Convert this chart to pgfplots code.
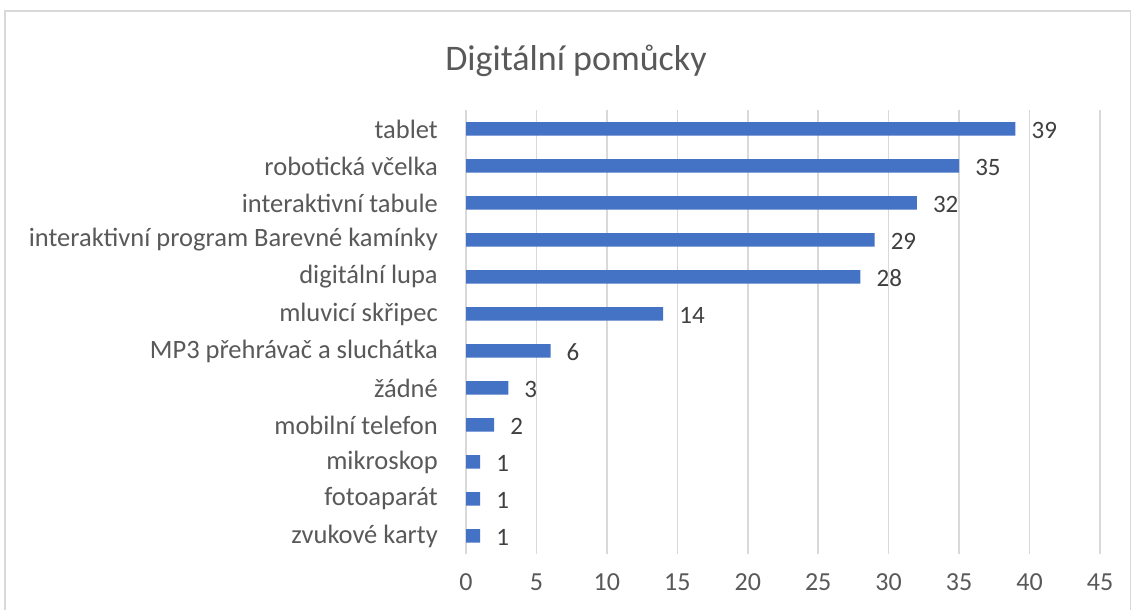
\documentclass[border=0pt]{standalone}
\usepackage{fontspec}
\setmainfont{Carlito}
\usepackage{pgfplots}
\pgfplotsset{compat=1.18}
\definecolor{barblue}{HTML}{4472C4}
\definecolor{txtgray}{HTML}{595959}
\definecolor{lblgray}{HTML}{404040}
\definecolor{gridgray}{HTML}{D9D9D9}
\begin{document}
\begin{tikzpicture}[x=1pt,y=1pt]
\useasboundingbox (0,0) rectangle (1132,610);
\fill[white] (0,0) rectangle (1132,610);
\draw[gridgray, line width=1.5pt] (5,-10) rectangle (1130.5,599);
\node[font=\fontsize{36}{40}\selectfont, text=txtgray] at (576,549) {Digitální pomůcky};
\begin{axis}[at={(466pt,55.5pt)}, anchor=south west, scale only axis,
  width=634pt, height=444pt,
  xbar, bar width=13.5pt,
  xmin=0, xmax=45, ymin=-0.5, ymax=11.5,
  xtick={0,5,...,45}, ytick={0,...,11},
  yticklabels={zvukové karty, fotoaparát, mikroskop, mobilní telefon, žádné, MP3 přehrávač a sluchátka, mluvicí skřipec, digitální lupa, interaktivní program Barevné kamínky, interaktivní tabule, robotická včelka, tablet},
  axis x line*=bottom, axis y line*=left,
  x axis line style={draw=none},
  y axis line style={gridgray, line width=1.5pt},
  major tick length=0pt,
  xmajorgrids, grid style={gridgray, line width=1.5pt},
  /pgf/number format/assume math mode=true,
  ticklabel style={font=\fontsize{26}{30}\selectfont, text=txtgray},
  xticklabel style={anchor=base, yshift=-36pt, inner sep=0pt},
  yticklabel style={font=\fontsize{26.5}{30}\selectfont, anchor=east, inner sep=0pt, xshift=-28pt},
  nodes near coords,
  nodes near coords style={font=\fontsize{25}{30}\selectfont, text=lblgray, anchor=west, inner sep=0pt, xshift=16pt, yshift=-1.5pt},
  clip=false,
]
\addplot[fill=barblue, draw=none] coordinates {(1,0) (1,1) (1,2) (2,3) (3,4) (6,5) (14,6) (28,7) (29,8) (32,9) (35,10) (39,11)};
\end{axis}
\end{tikzpicture}
\end{document}
